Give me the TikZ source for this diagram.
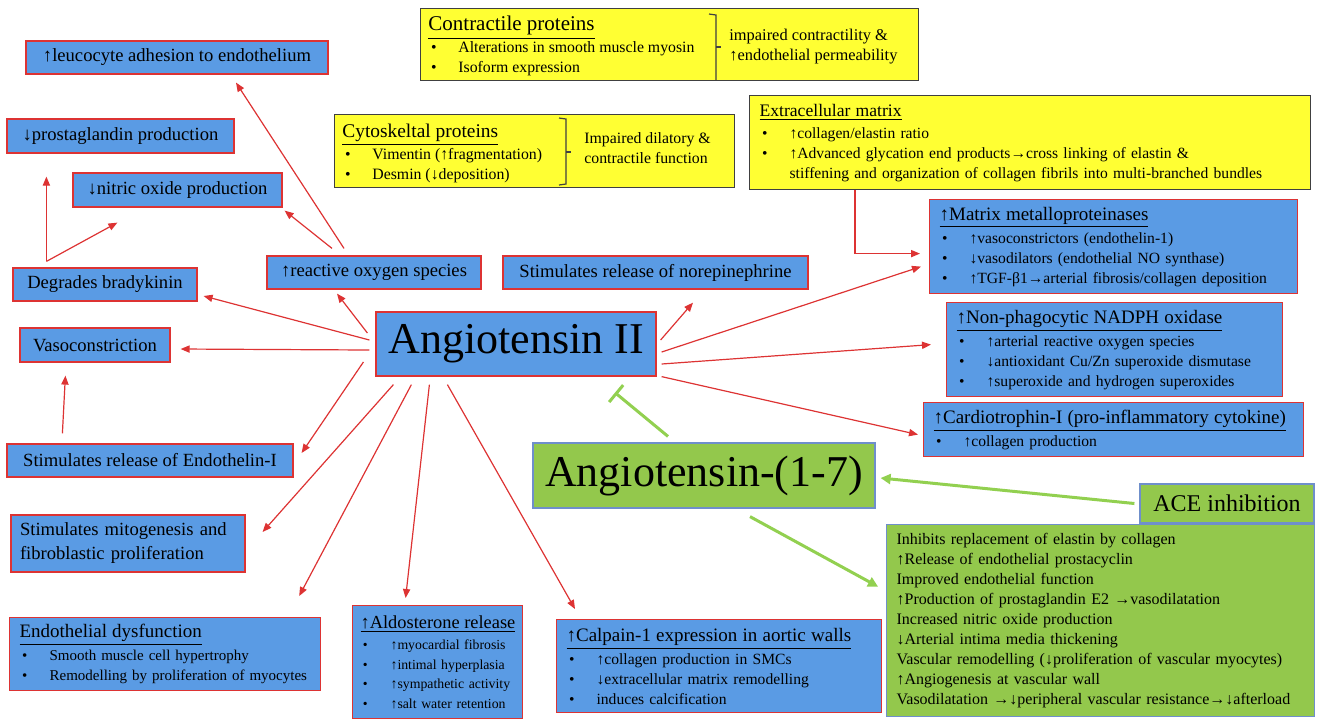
\documentclass[tikz,border=0pt]{standalone}
\usepackage{fontspec}
\setmainfont{Liberation Serif}
\usepackage{xcolor}
\usetikzlibrary{arrows.meta,positioning}
\definecolor{EBlue}{HTML}{5A9BE4}
\definecolor{ERed}{HTML}{DD3333}
\definecolor{EGreen}{HTML}{93C84C}
\definecolor{ELime}{HTML}{92D050}
\definecolor{EYellow}{HTML}{FFFF33}
\definecolor{EFrame}{HTML}{6F8FCB}
\definecolor{EGrey}{HTML}{404040}
\newcommand{\bitem}[1]{\mbox{\makebox[15pt][l]{\,\textbullet}#1}}
\newcommand{\btitle}[2][9.5]{{\fontsize{#1}{11}\selectfont\underline{#2}}}

\begin{document}
\begin{tikzpicture}[x=0.5pt,y=-0.5pt,
  every node/.style={font=\fontsize{9.3}{12}\selectfont,text=black},
  effect/.style={draw=ERed,line width=0.6pt,fill=EBlue,inner sep=0pt,align=center},
  effectlist/.style={draw=ERed,line width=0.6pt,fill=EBlue,anchor=north west,
    inner xsep=5pt,inner ysep=2pt,align=left,font=\fontsize{7.8}{10}\selectfont},
  peptide/.style={draw=EFrame,line width=0.6pt,fill=EGreen,inner sep=0pt,align=center},
  proteins/.style={draw=EGrey,line width=0.6pt,fill=EYellow,anchor=north west,inner sep=0pt},
  ytext/.style={inner sep=0pt,align=left,font=\fontsize{7.9}{10}\selectfont},
  brk/.style={line width=0.6pt,color=EGrey},
  arr/.style={-{Triangle[length=4.5pt,width=3.6pt]},line width=0.6pt,color=ERed},
  garr/.style={-{Triangle[length=5pt,width=5pt]},line width=1.5pt,color=ELime},
  inh/.style={-{Bar[width=11pt,line width=1.5pt]},line width=1.5pt,color=ELime}
]
  \useasboundingbox (0,0) rectangle (1317,720);

  % central peptides
  \node[effect,minimum width=140pt,minimum height=32pt,font=\fontsize{22}{24}\selectfont]
    (angii) at (516,344) {Angiotensin II};
  \node[peptide,minimum width=171pt,minimum height=32.5pt,font=\fontsize{22}{24}\selectfont]
    (ang17) at (704,475.5) {Angiotensin-(1-7)};
  \node[peptide,minimum width=87pt,minimum height=19.5pt,font=\fontsize{12}{14}\selectfont]
    (ace) at (1227,503.5) {ACE inhibition};

  % single line effects
  \node[effect,minimum width=151pt,minimum height=16.5pt] (leuco) at (177,57.5)
    {↑leucocyte adhesion to endothelium};
  \node[effect,minimum width=113.5pt,minimum height=17pt] (prost) at (120.5,136)
    {↓prostaglandin production};
  \node[effect,minimum width=104.5pt,minimum height=17pt] (nitric) at (177.5,190)
    {↓nitric oxide production};
  \node[effect,minimum width=92pt,minimum height=16.5pt] (brady) at (105,284.5)
    {Degrades bradykinin};
  \node[effect,minimum width=75pt,minimum height=17pt] (vaso) at (95,345)
    {Vasoconstriction};
  \node[effect,minimum width=143pt,minimum height=16.5pt] (endoI) at (150,460.5)
    {Stimulates release of Endothelin-I};
  \node[effect,minimum width=117pt,minimum height=28.5pt,text width=108pt,align=left]
    (mito) at (128,543.5) {Stimulates mitogenesis and\\ fibroblastic proliferation};
  \node[effect,minimum width=107pt,minimum height=16.5pt] (ros) at (374,272.5)
    {↑reactive oxygen species};
  \node[effect,minimum width=152.5pt,minimum height=16.5pt] (nore) at (655.5,272.5)
    {Stimulates release of norepinephrine};

  % effects with lists
  \node[effectlist,text width=145.5pt,minimum height=36.5pt,font=\fontsize{7.5}{10}\selectfont]
    (endod) at (9,617)
    {\btitle{Endothelial dysfunction}\\[1.5pt]
     \bitem{Smooth muscle cell hypertrophy}\\
     \bitem{Remodelling by proliferation of myocytes}};
  \node[effectlist,text width=77pt,inner xsep=4pt,minimum height=56.5pt,
    font=\fontsize{6.9}{9.8}\selectfont] (aldo) at (352,605)
    {\btitle[9.2]{↑Aldosterone release}\\[1pt]
     \bitem{↑myocardial fibrosis}\\
     \bitem{↑intimal hyperplasia}\\
     \bitem{↑sympathetic activity}\\
     \bitem{↑salt water retention}};
  \node[effectlist,text width=152.5pt,minimum height=46.5pt] (calp) at (556,619)
    {\btitle{↑Calpain-1 expression in aortic walls}\\[1.5pt]
     \bitem{↑collagen production in SMCs}\\
     \bitem{↓extracellular matrix remodelling}\\
     \bitem{induces calcification}};
  \node[effectlist,text width=174pt,minimum height=47pt] (mmp) at (929,199)
    {\btitle{↑Matrix metalloproteinases}\\[1.5pt]
     \bitem{↑vasoconstrictors (endothelin-1)}\\
     \bitem{↓vasodilators (endothelial NO synthase)}\\
     \bitem{↑TGF-β1→arterial fibrosis/collagen deposition}};
  \node[effectlist,text width=158pt,minimum height=47pt] (nadph) at (946,302)
    {\btitle{↑Non-phagocytic NADPH oxidase}\\[1.5pt]
     \bitem{↑arterial reactive oxygen species}\\
     \bitem{↓antioxidant Cu/Zn superoxide dismutase}\\
     \bitem{↑superoxide and hydrogen superoxides}};
  \node[effectlist,text width=180pt,minimum height=27pt] (cardio) at (923,402)
    {\btitle{↑Cardiotrophin-I (pro-inflammatory cytokine)}\\[1.5pt]
     \bitem{↑collagen production}};
  \node[effectlist,draw=EFrame,fill=EGreen,text width=204pt,minimum height=96pt,
    font=\fontsize{8}{10}\selectfont] (aceeff) at (886,524)
    {Inhibits replacement of elastin by collagen\\
     ↑Release of endothelial prostacyclin\\
     Improved endothelial function\\
     ↑Production of prostaglandin E2 →vasodilatation\\
     Increased nitric oxide production\\
     ↓Arterial intima media thickening\\
     Vascular remodelling (↓proliferation of vascular myocytes)\\
     ↑Angiogenesis at vascular wall\\
     Vasodilatation →↓peripheral vascular resistance→↓afterload};

  % structural proteins
  \node[proteins,minimum width=249pt,minimum height=36pt] (contr) at (420,8) {};
  \node[ytext,anchor=north west] (contrL) at (428,16)
    {\btitle[10.5]{Contractile proteins}\\[1pt]
     \bitem{Alterations in smooth muscle myosin}\\
     \bitem{Isoform expression}};
  \node[ytext,anchor=west,font=\fontsize{8.2}{10}\selectfont] (contrR) at (729,47)
    {impaired contractility \&\\ ↑endothelial permeability};
  \draw[brk] (709,14) -- (716,15) -- (716,80);
  \draw[brk] (716,47) -- (721,47);

  \node[proteins,minimum width=200pt,minimum height=36.5pt] (cyto) at (334,114) {};
  \node[ytext,anchor=north west] (cytoL) at (342,124)
    {\btitle[9.7]{Cytoskeltal proteins}\\[1pt]
     \bitem{Vimentin (↑fragmentation)}\\
     \bitem{Desmin (↓deposition)}};
  \node[ytext,anchor=west] (cytoR) at (584,148)
    {Impaired dilatory \&\\ contractile function};
  \draw[brk] (559,118) -- (566,119) -- (566,184) -- (559,185);
  \draw[brk] (566,152) -- (571,152);

  \node[proteins,text width=270.5pt,minimum height=47pt,inner xsep=5pt,inner ysep=3pt,
    align=left,font=\fontsize{7.8}{10}\selectfont] (ecm) at (749,95)
    {\btitle[8.8]{Extracellular matrix}\\[1pt]
     \bitem{↑collagen/elastin ratio}\\
     \bitem{↑Advanced glycation end products→cross linking of elastin \&}\\
     \hspace*{15pt}stiffening and organization of collagen fibrils into multi-branched bundles};

  % Angiotensin II actions
  \draw[arr] ([shift={(-8,-11)}]angii.west) -- ([shift={(-37,4)}]ros.south);
  \draw[arr] ([shift={(-6,-4)}]angii.west) -- ([shift={(6,11.5)}]brady.east);
  \draw[arr] ([shift={(-6,6)}]angii.west) -- ([shift={(10,4)}]vaso.east);
  \draw[arr] ([shift={(-12,18)}]angii.west) -- ([shift={(8,-7.5)}]endoI.east);
  \draw[arr] ([shift={(18,8)}]angii.south west) -- ([shift={(17,-11.5)}]mito.east);
  \draw[arr] ([shift={(36,8)}]angii.south west) -- ([shift={(-22,-21)}]endod.north east);
  \draw[arr] ([shift={(54,8)}]angii.south west) -- ([shift={(-32,-7)}]aldo.north);
  \draw[arr] ([shift={(72,8)}]angii.south west) -- ([shift={(19,-10)}]calp.north west);
  \draw[arr] ([shift={(4,-4)}]angii.east) -- ([shift={(37.5,13)}]nore.south);
  \draw[arr] ([shift={(5,8)}]angii.east) -- ([shift={(-8,20)}]mmp.west);
  \draw[arr] ([shift={(5,20)}]angii.east) -- ([shift={(-15,-5)}]nadph.west);
  \draw[arr] ([shift={(5,0)}]angii.south east) -- ([shift={(-5,5)}]cardio.west);

  % secondary actions
  \draw[arr] ([shift={(-30,-7)}]ros.north) -- ([shift={(59,8)}]leuco.south);
  \draw[arr] ([shift={(-42,-7)}]ros.north) -- ([shift={(2,3)}]nitric.south east);
  \coordinate (bk) at ([shift={(34,-6)}]brady.north west);
  \draw[arr] (bk) -- ([shift={(40,23)}]prost.south west);
  \draw[arr] (bk) -- ([shift={(45,15)}]nitric.south west);
  \draw[arr] ([shift={(56,-10)}]endoI.north west) -- ([shift={(46,13)}]vaso.south west);
  \draw[arr] ([shift={(106,0)}]ecm.south west) |- ([shift={(-9,7)}]mmp.west);

  % Angiotensin-(1-7)
  \draw[inh] ([shift={(-36,-6)}]ang17.north) -- ([shift={(99,16)}]angii.south);
  \draw[garr] ([shift={(-5,0)}]ace.west) -- ([shift={(5,2.5)}]ang17.east);
  \draw[garr] ([shift={(46,8)}]ang17.south) -- ([shift={(-8,-34)}]aceeff.west);
\end{tikzpicture}
\end{document}
